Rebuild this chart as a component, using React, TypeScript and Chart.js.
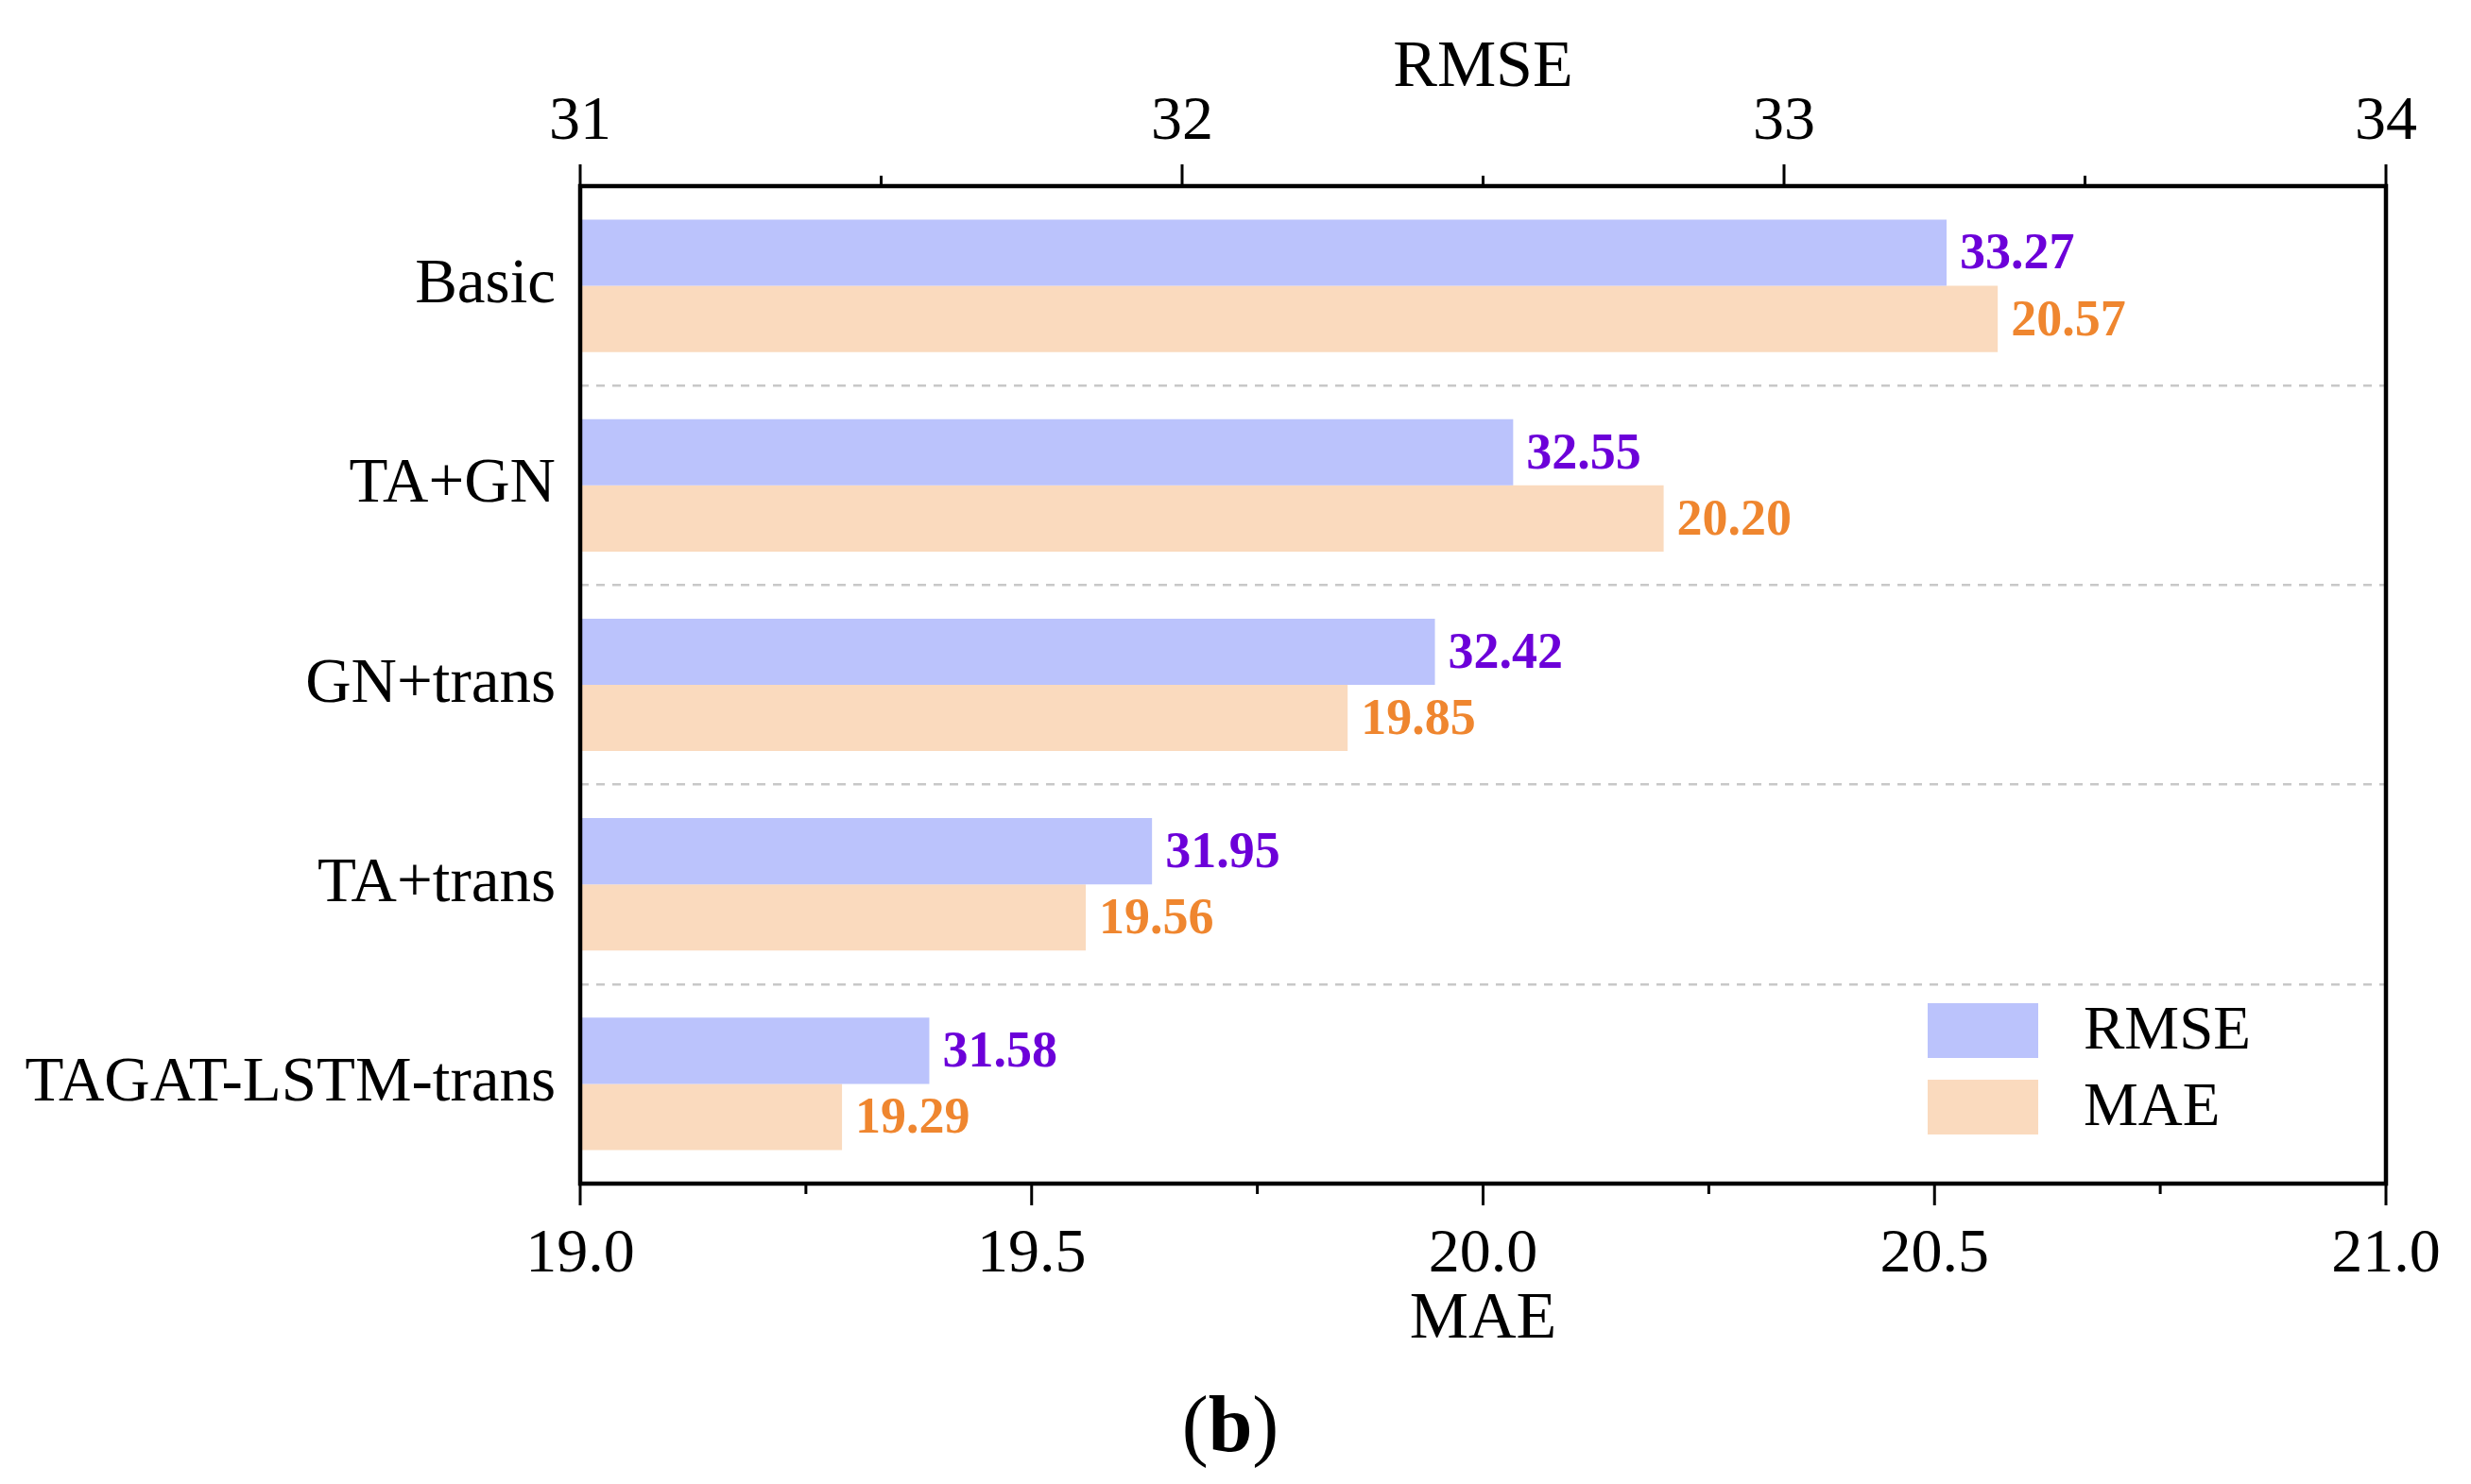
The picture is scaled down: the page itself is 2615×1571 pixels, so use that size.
import React, { useEffect, useRef } from 'react';
import { Chart, registerables } from 'chart.js';

Chart.register(...registerables);

const categories = ['Basic', 'TA+GN', 'GN+trans', 'TA+trans', 'TAGAT-LSTM-trans'];
const rmseValues = [33.27, 32.55, 32.42, 31.95, 31.58];
const maeValues = [20.57, 20.2, 19.85, 19.56, 19.29];
const rmseMajorTicks = [31, 32, 33, 34];
const rmseMinorTicks = [31.5, 32.5, 33.5];
const maeMajorTicks = [19.0, 19.5, 20.0, 20.5, 21.0];
const maeMinorTicks = [19.25, 19.75, 20.25, 20.75];
const captionText = ['(', 'b', ')'];

const FONT = "'Liberation Serif', 'Times New Roman', serif";

const framePlugin = {
  id: 'frameTicks',
  afterDraw(chart: any) {
    const { ctx, chartArea, scales } = chart;
    const { left, right, top, bottom } = chartArea;
    ctx.save();
    ctx.strokeStyle = '#000';
    ctx.lineWidth = 3;
    const xb = scales.x;
    const xt = scales.x2;
    const tick = (x: number, y0: number, y1: number) => {
      ctx.beginPath();
      ctx.moveTo(x, y0);
      ctx.lineTo(x, y1);
      ctx.stroke();
    };
    maeMajorTicks.forEach((v) => tick(xb.getPixelForValue(v), bottom, bottom + 23));
    maeMinorTicks.forEach((v) => tick(xb.getPixelForValue(v), bottom, bottom + 11));
    rmseMajorTicks.forEach((v) => tick(xt.getPixelForValue(v), top, top - 23));
    rmseMinorTicks.forEach((v) => tick(xt.getPixelForValue(v), top, top - 11));
    ctx.lineWidth = 4.5;
    ctx.strokeRect(left, top, right - left, bottom - top);

    // caption "(b)"
    ctx.fillStyle = '#000';
    ctx.textBaseline = 'alphabetic';
    const fonts = [`84px ${FONT}`, `bold 84px ${FONT}`, `84px ${FONT}`];
    let total = 0;
    const widths = captionText.map((t, i) => {
      ctx.font = fonts[i];
      const w = ctx.measureText(t).width;
      total += w;
      return w;
    });
    let cx = 1302 - total / 2;
    captionText.forEach((t, i) => {
      ctx.font = fonts[i];
      ctx.textAlign = 'left';
      ctx.fillText(t, cx, 1536);
      cx += widths[i];
    });
    ctx.restore();
  },
};

const valueLabelPlugin = {
  id: 'valueLabels',
  afterDatasetsDraw(chart: any) {
    const { ctx } = chart;
    ctx.save();
    ctx.font = `bold 54px ${FONT}`;
    ctx.textAlign = 'left';
    ctx.textBaseline = 'middle';
    chart.data.datasets.forEach((ds: any, i: number) => {
      const meta = chart.getDatasetMeta(i);
      ctx.fillStyle = ds.labelColor;
      meta.data.forEach((el: any, j: number) => {
        const { x, y } = el.getProps(['x', 'y'], true);
        ctx.fillText(Number(ds.data[j]).toFixed(2), x + 14, y + 3);
      });
    });
    ctx.restore();
  },
};

const legendPlugin = {
  id: 'innerLegend',
  afterDraw(chart: any) {
    const { ctx, chartArea } = chart;
    ctx.save();
    const boxX = chartArea.right - 485;
    const boxW = 117;
    const boxH = 58;
    const firstY = chartArea.bottom - 191;
    const rowGap = 81;
    ctx.font = `65px ${FONT}`;
    ctx.textAlign = 'left';
    ctx.textBaseline = 'middle';
    chart.data.datasets.forEach((ds: any, i: number) => {
      const y = firstY + i * rowGap;
      ctx.fillStyle = ds.backgroundColor;
      ctx.fillRect(boxX, y, boxW, boxH);
      ctx.fillStyle = '#000';
      ctx.fillText(ds.label, boxX + 165, y + boxH / 2 + 2);
    });
    ctx.restore();
  },
};

export default function App() {
  const canvasRef = useRef<HTMLCanvasElement | null>(null);

  useEffect(() => {
    document.body.style.margin = '0';
    document.body.style.overflow = 'hidden';
    Chart.defaults.font.family = FONT;
    Chart.defaults.color = '#000';
    const canvas = canvasRef.current;
    if (!canvas) return;
    const chart = new Chart(canvas, {
      type: 'bar',
      data: {
        labels: categories,
        datasets: [
          {
            label: 'RMSE',
            data: rmseValues,
            xAxisID: 'x2',
            backgroundColor: '#BBC3FC',
            borderWidth: 0,
            categoryPercentage: 0.664,
            barPercentage: 1,
            labelColor: '#6C00D9',
          } as any,
          {
            label: 'MAE',
            data: maeValues,
            xAxisID: 'x',
            backgroundColor: '#FADABE',
            borderWidth: 0,
            categoryPercentage: 0.664,
            barPercentage: 1,
            labelColor: '#EF862F',
          } as any,
        ],
      },
      options: {
        indexAxis: 'y',
        responsive: false,
        maintainAspectRatio: false,
        animation: false,
        devicePixelRatio: 1,
        layout: { padding: { left: 0, right: 90, top: 0, bottom: 0 } },
        plugins: {
          legend: { display: false },
          tooltip: { enabled: false },
          title: { display: false },
        },
        scales: {
          y: {
            type: 'category',
            position: 'left',
            offset: true,
            grid: {
              display: true,
              offset: true,
              drawOnChartArea: true,
              drawTicks: false,
              color: '#c8c8c8',
              lineWidth: 2.5,
            },
            border: { display: false, dash: [9, 8] },
            ticks: {
              font: { size: 67, family: FONT },
              color: '#000',
              padding: 26,
            },
            afterFit: (s: any) => {
              s.width = 614;
            },
          },
          x: {
            type: 'linear',
            position: 'bottom',
            min: 19,
            max: 21,
            grid: { display: false },
            border: { display: false },
            afterBuildTicks: (s: any) => {
              s.ticks = maeMajorTicks.map((v) => ({ value: v }));
            },
            ticks: {
              font: { size: 66, family: FONT },
              color: '#000',
              padding: 28,
              maxRotation: 0,
              autoSkip: false,
              callback: (v: any) => Number(v).toFixed(1),
            },
            title: {
              display: true,
              text: 'MAE',
              color: '#000',
              font: { size: 70, family: FONT },
              padding: { top: 0, bottom: 131 },
            },
            afterFit: (s: any) => {
              s.height = 318;
            },
          },
          x2: {
            type: 'linear',
            position: 'top',
            min: 31,
            max: 34,
            grid: { display: false },
            border: { display: false },
            afterBuildTicks: (s: any) => {
              s.ticks = rmseMajorTicks.map((v) => ({ value: v }));
            },
            ticks: {
              font: { size: 66, family: FONT },
              color: '#000',
              padding: 20,
              maxRotation: 0,
              autoSkip: false,
              callback: (v: any) => String(v),
            },
            title: {
              display: true,
              text: 'RMSE',
              color: '#000',
              font: { size: 70, family: FONT },
              padding: { top: 31, bottom: 0 },
            },
            afterFit: (s: any) => {
              s.height = 197;
            },
          },
        },
      } as any,
      plugins: [valueLabelPlugin, framePlugin, legendPlugin],
    });
    return () => chart.destroy();
  }, []);

  return (
    <div style={{ width: 2615, height: 1571, overflow: 'hidden', background: '#fff' }}>
      <canvas ref={canvasRef} width={2615} height={1571} style={{ display: 'block' }} />
    </div>
  );
}
